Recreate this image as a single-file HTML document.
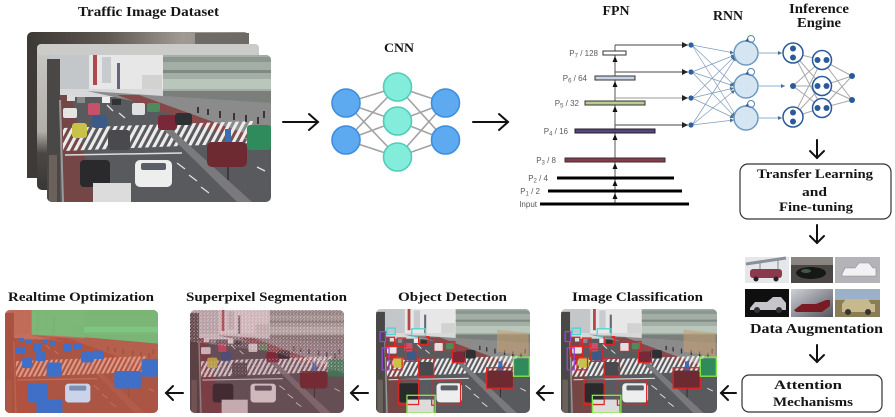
<!DOCTYPE html>
<html><head><meta charset="utf-8"><style>
html,body{margin:0;padding:0;background:#fff;}
svg{display:block;}
.t{font-family:"Liberation Serif",serif;font-weight:bold;fill:#151515;}
.l{font-family:"Liberation Sans",sans-serif;fill:#5a5a5a;font-size:8px;}
</style></head><body>
<svg width="895" height="417" viewBox="0 0 895 417" xmlns="http://www.w3.org/2000/svg">
<defs>
 <pattern id="stripes" patternUnits="userSpaceOnUse" width="7" height="40" patternTransform="skewX(-28)">
   <rect x="0" y="0" width="3.6" height="40" fill="#ececec"/>
 </pattern>
 <pattern id="stripesR" patternUnits="userSpaceOnUse" width="7" height="40" patternTransform="skewX(-28)">
   <rect x="0" y="0" width="3.6" height="40" fill="#e8a595"/>
 </pattern>
 <pattern id="noise" patternUnits="userSpaceOnUse" width="5" height="5">
   <rect x="0" y="0" width="1.6" height="1.4" fill="#fff"/>
   <rect x="2.6" y="1.8" width="1.2" height="1.2" fill="#f4cccc"/>
   <rect x="1" y="3.5" width="1.3" height="1" fill="#fff"/>
   <rect x="3.8" y="4" width="1" height="1" fill="#e0b0b0"/>
 </pattern>
 <marker id="mk" viewBox="0 0 10 10" refX="10" refY="5" markerUnits="userSpaceOnUse" markerWidth="6" markerHeight="6" orient="auto"><path d="M0,0 L10,5 L0,10z" fill="#222"/></marker>
 <marker id="mkb" viewBox="0 0 10 10" refX="10" refY="5" markerUnits="userSpaceOnUse" markerWidth="4" markerHeight="4" orient="auto"><path d="M0,0 L10,5 L0,10z" fill="#4a6f96"/></marker>

 <g id="base">
  <rect width="224" height="147" fill="#595a5e"/>
  <rect width="224" height="42" fill="#d6d8d9"/>
  <rect x="0" y="0" width="42" height="34" fill="#c4c7c9"/>
  <rect x="42" y="0" width="76" height="34" fill="#e6e7e6"/>
  <rect x="46" y="0" width="4" height="30" fill="#b04848"/>
  <rect x="55" y="2" width="9" height="26" fill="#c8cbcd"/>
  <rect x="70" y="8" width="3" height="26" fill="#667"/>
  <rect x="95" y="20" width="20" height="14" fill="#d2d2d0"/>
  <rect x="116" y="0" width="108" height="50" fill="#a3aea7"/>
  <rect x="116" y="2" width="108" height="5" fill="#8b978f"/>
  <rect x="116" y="15" width="108" height="3" fill="#7f8a82"/>
  <rect x="116" y="24" width="108" height="10" fill="#b9c6bc"/>
  <rect x="116" y="36" width="108" height="14" fill="#7b7f7b"/>
  <rect x="0" y="4" width="13" height="143" fill="#4a4846"/>
  <polygon points="40,36 224,48 224,86 204,86 95,48" fill="#8c8b8c"/>
  <polygon points="70,40 92,40 208,82 188,84" fill="#86494a"/>
  <polygon points="13,40 24,40 48,147 17,147" fill="#744646"/>
  <polygon points="16,73 206,66 206,88 16,96" fill="url(#stripes)"/>
  <line x1="18" y1="100" x2="135" y2="98" stroke="#ddd" stroke-width="1.5"/>
  <polygon points="112,70 120,70 205,147 190,147" fill="#7a7a7d"/>
  <line x1="13" y1="45" x2="16" y2="147" stroke="#9a9a9a" stroke-width="2"/>
  <g stroke="#e0e0e0" stroke-width="1.3">
   <line x1="130" y1="108" x2="138" y2="114"/><line x1="142" y1="120" x2="150" y2="126"/><line x1="154" y1="132" x2="162" y2="138"/>
   <line x1="60" y1="50" x2="66" y2="56"/><line x1="72" y1="58" x2="78" y2="63"/>
   <line x1="210" y1="112" x2="218" y2="116"/>
  </g>
  <g fill="#3a3536">
   <rect x="150" y="52" width="2" height="6"/><rect x="160" y="54" width="2" height="6"/><rect x="172" y="56" width="2" height="7"/><rect x="186" y="58" width="2" height="7"/><rect x="198" y="60" width="2" height="7"/><rect x="210" y="62" width="2" height="7"/><rect x="216" y="56" width="2" height="7"/>
  </g>
  <rect x="178" y="74" width="6" height="22" fill="#3c6cb4"/>
  <line x1="181" y1="96" x2="181" y2="125" stroke="#333" stroke-width="1.5"/>
  <rect x="2" y="100" width="8" height="47" fill="#6a625a"/>
 </g>

 <g id="cars">
  <rect x="88" y="105" width="37" height="27" rx="5" fill="#eeeeee"/>
  <rect x="94" y="108" width="25" height="7" rx="2" fill="#5a5e66"/>
  <rect x="33" y="105" width="30" height="27" rx="4" fill="#2a2a2c"/>
  <rect x="46" y="128" width="38" height="19" fill="#dcdcdc"/>
  <rect x="61" y="75" width="22" height="20" rx="3" fill="#4a4a4e"/>
  <rect x="25" y="68" width="15" height="15" rx="3" fill="#c9c24a"/>
  <rect x="45" y="60" width="15" height="13" rx="3" fill="#3b5a88"/>
  <rect x="111" y="60" width="19" height="15" rx="3" fill="#7a2838"/>
  <rect x="128" y="58" width="17" height="12" rx="3" fill="#2e3034"/>
  <rect x="160" y="87" width="40" height="25" rx="5" fill="#6d2a30"/>
  <rect x="200" y="70" width="24" height="25" rx="3" fill="#2f8a5c"/>
  <rect x="16" y="53" width="14" height="10" rx="2" fill="#e5e5e5"/>
  <rect x="41" y="48" width="12" height="12" rx="2" fill="#c9506a"/>
  <rect x="85" y="48" width="13" height="12" rx="2" fill="#e0e0e0"/>
  <rect x="100" y="48" width="13" height="9" rx="2" fill="#4e8a5e"/>
  <rect x="20" y="40" width="8" height="6" fill="#ddd"/>
  <rect x="30" y="42" width="8" height="6" fill="#888"/>
  <rect x="55" y="42" width="8" height="6" fill="#eee"/>
  <rect x="65" y="44" width="9" height="6" fill="#333"/>
 </g>
 <g id="carShapes">
  <rect x="33" y="105" width="30" height="27" rx="4"/>
  <rect x="46" y="128" width="38" height="19"/>
  <rect x="61" y="75" width="22" height="20" rx="3"/>
  <rect x="25" y="68" width="15" height="15" rx="3"/>
  <rect x="45" y="60" width="15" height="13" rx="3"/>
  <rect x="111" y="60" width="19" height="15" rx="3"/>
  <rect x="128" y="58" width="17" height="12" rx="3"/>
  <rect x="160" y="87" width="40" height="25" rx="5"/>
  <rect x="200" y="70" width="24" height="25" rx="3"/>
  <rect x="16" y="53" width="14" height="10" rx="2"/>
  <rect x="41" y="48" width="12" height="12" rx="2"/>
  <rect x="85" y="48" width="13" height="12" rx="2"/>
  <rect x="100" y="48" width="13" height="9" rx="2"/>
  <rect x="20" y="40" width="8" height="6"/>
  <rect x="30" y="42" width="8" height="6"/>
  <rect x="55" y="42" width="8" height="6"/>
  <rect x="65" y="44" width="9" height="6"/>
 </g>
 <g id="boxes" fill="none" stroke-width="1.8">
  <polygon points="176,29 222,34 222,67 176,60" fill="#c9a070" opacity="0.55" stroke="none"/>
  <g stroke="#e02424">
   <rect x="81" y="102" width="42" height="34"/>
   <rect x="33" y="100" width="29" height="35"/>
   <rect x="161" y="83" width="39" height="29"/>
   <rect x="62" y="69" width="22" height="26"/>
   <rect x="14" y="40" width="13" height="13"/>
   <rect x="31" y="41" width="12" height="12"/>
   <rect x="43" y="57" width="17" height="17"/>
   <rect x="23" y="69" width="15" height="17"/>
   <rect x="84" y="46" width="14" height="14"/>
   <rect x="101" y="46" width="14" height="14"/>
   <rect x="111" y="57" width="19" height="19"/>
   <rect x="62" y="39" width="15" height="11"/>
   <rect x="14" y="53" width="17" height="14"/>
  </g>
  <g stroke="#86f044">
   <rect x="200" y="68" width="23" height="27"/>
   <rect x="45" y="122" width="41" height="25"/>
  </g>
  <g stroke="#45d6d6">
   <rect x="16" y="27" width="12" height="9"/>
   <rect x="52" y="28" width="20" height="10"/>
  </g>
  <g stroke="#9a44e6">
   <rect x="6" y="32" width="8" height="14"/>
   <rect x="9" y="55" width="10" height="31"/>
  </g>
 </g>

 <clipPath id="cF"><rect x="47" y="55" width="224" height="147" rx="5"/></clipPath>
 <clipPath id="c1"><rect x="5" y="310" width="153" height="103" rx="5"/></clipPath>
 <clipPath id="c2"><rect x="190" y="310" width="154" height="103" rx="5"/></clipPath>
 <clipPath id="c3"><rect x="376" y="309" width="154" height="104" rx="5"/></clipPath>
 <clipPath id="c4"><rect x="561" y="309" width="156" height="104" rx="5"/></clipPath>
 <linearGradient id="gBack" x1="0" y1="0" x2="1" y2="0">
  <stop offset="0" stop-color="#3c3834"/><stop offset="0.35" stop-color="#5c5650"/><stop offset="0.7" stop-color="#a09a94"/><stop offset="1" stop-color="#8a8682"/>
 </linearGradient>
 <linearGradient id="gMid" x1="0" y1="0" x2="0" y2="1">
  <stop offset="0" stop-color="#c9c9c7"/><stop offset="0.6" stop-color="#b3aea8"/><stop offset="0.75" stop-color="#4a4744"/><stop offset="1" stop-color="#3a3836"/>
 </linearGradient>
 <linearGradient id="gT5" x1="0" y1="0" x2="1" y2="1">
  <stop offset="0" stop-color="#d0d0d8"/><stop offset="1" stop-color="#55555e"/>
 </linearGradient>
</defs>

<rect width="895" height="417" fill="#fff"/>

<!-- ===== Traffic Image Dataset ===== -->
<text class="t" x="148.5" y="16" font-size="14" text-anchor="middle" textLength="141" lengthAdjust="spacingAndGlyphs">Traffic Image Dataset</text>
<rect x="27" y="32" width="222" height="146" rx="5" fill="url(#gBack)"/>
<rect x="195" y="33" width="54" height="12" fill="#6e6a66"/>
<rect x="27" y="44" width="10" height="134" fill="#3e3a37"/>
<rect x="37" y="44" width="222" height="146" rx="5" fill="url(#gMid)"/>
<rect x="37" y="44" width="222" height="11" rx="4" fill="#cbcbc9"/>
<g clip-path="url(#cF)">
 <svg x="47" y="55" width="224" height="147" viewBox="0 0 224 147" preserveAspectRatio="none"><use href="#base"/><use href="#cars"/></svg>
</g>

<!-- arrows right -->
<g stroke="#111" stroke-width="2" fill="none" stroke-linecap="round">
 <line x1="283" y1="122" x2="318" y2="122"/><polyline points="309,114 318,122 309,130"/>
 <line x1="473" y1="122" x2="508" y2="122"/><polyline points="499,114 508,122 499,130"/>
</g>

<!-- ===== CNN ===== -->
<text class="t" x="399" y="52" font-size="13" text-anchor="middle" textLength="30" lengthAdjust="spacingAndGlyphs">CNN</text>
<g stroke="#a3a3a3" stroke-width="1.6">
 <line x1="346" y1="103" x2="397.5" y2="87"/><line x1="346" y1="103" x2="397.5" y2="121"/><line x1="346" y1="103" x2="397.5" y2="157"/>
 <line x1="346" y1="140" x2="397.5" y2="87"/><line x1="346" y1="140" x2="397.5" y2="121"/><line x1="346" y1="140" x2="397.5" y2="157"/>
 <line x1="445.5" y1="103" x2="397.5" y2="87"/><line x1="445.5" y1="103" x2="397.5" y2="121"/><line x1="445.5" y1="103" x2="397.5" y2="157"/>
 <line x1="445.5" y1="140" x2="397.5" y2="87"/><line x1="445.5" y1="140" x2="397.5" y2="121"/><line x1="445.5" y1="140" x2="397.5" y2="157"/>
</g>
<g fill="#5eaaf0" stroke="#3d8de0" stroke-width="1.6">
 <circle cx="346" cy="103" r="14"/><circle cx="346" cy="140" r="14"/>
 <circle cx="445.5" cy="103" r="14"/><circle cx="445.5" cy="140" r="14"/>
</g>
<g fill="#84ecda" stroke="#4fcdb8" stroke-width="1.6">
 <circle cx="397.5" cy="87" r="14"/><circle cx="397.5" cy="121" r="14"/><circle cx="397.5" cy="157" r="14"/>
</g>

<!-- ===== FPN ===== -->
<text class="t" x="616" y="15" font-size="14" text-anchor="middle" textLength="27" lengthAdjust="spacingAndGlyphs">FPN</text>
<line x1="615" y1="45" x2="615" y2="204" stroke="#555" stroke-width="1"/>
<g stroke="#444" stroke-width="1" marker-end="url(#mk)">
 <line x1="615" y1="45" x2="688" y2="45"/>
 <line x1="615" y1="72" x2="688" y2="72"/>
 <line x1="615" y1="98" x2="688" y2="98" stroke="#999"/>
 <line x1="615" y1="125" x2="688" y2="125"/>
</g>
<rect x="603" y="51" width="23" height="4" fill="#fff" stroke="#333" stroke-width="1"/>
<rect x="595" y="76" width="40" height="4" fill="#c8d4e6" stroke="#333" stroke-width="1"/>
<rect x="585" y="101" width="60" height="4" fill="#b9cd90" stroke="#333" stroke-width="1"/>
<rect x="575" y="129" width="80" height="4" fill="#5b4282" stroke="#222" stroke-width="1"/>
<rect x="565" y="158" width="100" height="4" fill="#8c3a48" stroke="#333" stroke-width="1"/>
<g stroke="#000" stroke-width="3">
 <line x1="557" y1="178" x2="674" y2="178"/>
 <line x1="548" y1="191" x2="682" y2="191"/>
 <line x1="540" y1="204" x2="689" y2="204"/>
</g>
<g fill="#111">
 <path d="M615,56 l-2.5,6 h5z"/><path d="M615,81 l-2.5,6 h5z"/><path d="M615,106 l-2.5,6 h5z"/>
 <path d="M615,134 l-2.5,6 h5z"/><path d="M615,163 l-2.5,6 h5z"/><path d="M615,180 l-2.5,6 h5z"/><path d="M615,193 l-2.5,6 h5z"/>
</g>
<text class="l" x="598" y="56" text-anchor="end">P<tspan font-size="6" dy="1.5">7</tspan><tspan dy="-1.5"> / 128</tspan></text>
<text class="l" x="587" y="81" text-anchor="end">P<tspan font-size="6" dy="1.5">6</tspan><tspan dy="-1.5"> / 64</tspan></text>
<text class="l" x="579" y="106" text-anchor="end">P<tspan font-size="6" dy="1.5">5</tspan><tspan dy="-1.5"> / 32</tspan></text>
<text class="l" x="568" y="134" text-anchor="end">P<tspan font-size="6" dy="1.5">4</tspan><tspan dy="-1.5"> / 16</tspan></text>
<text class="l" x="556" y="163" text-anchor="end">P<tspan font-size="6" dy="1.5">3</tspan><tspan dy="-1.5"> / 8</tspan></text>
<text class="l" x="548" y="181" text-anchor="end">P<tspan font-size="6" dy="1.5">2</tspan><tspan dy="-1.5"> / 4</tspan></text>
<text class="l" x="540" y="194" text-anchor="end">P<tspan font-size="6" dy="1.5">1</tspan><tspan dy="-1.5"> / 2</tspan></text>
<text class="l" x="537" y="207" text-anchor="end">Input</text>

<!-- ===== RNN ===== -->
<text class="t" x="728" y="20" font-size="14" text-anchor="middle" textLength="30" lengthAdjust="spacingAndGlyphs">RNN</text>
<g stroke="#7f9cbc" stroke-width="0.7" marker-end="url(#mkb)">
 <line x1="692" y1="45" x2="734" y2="53"/><line x1="692" y1="45" x2="735" y2="86"/><line x1="692" y1="45" x2="736" y2="116"/>
 <line x1="692" y1="72" x2="735" y2="55"/><line x1="692" y1="72" x2="734" y2="86"/><line x1="692" y1="72" x2="735" y2="117"/>
 <line x1="692" y1="98" x2="735" y2="56"/><line x1="692" y1="98" x2="734" y2="88"/><line x1="692" y1="98" x2="734" y2="118"/>
 <line x1="692" y1="125" x2="736" y2="57"/><line x1="692" y1="125" x2="735" y2="90"/><line x1="692" y1="125" x2="734" y2="120"/>
</g>
<g fill="#2f5f9e">
 <circle cx="691" cy="45" r="2.6"/><circle cx="691" cy="72" r="2.6"/><circle cx="691" cy="98" r="2.6"/><circle cx="691" cy="125" r="2.6"/>
</g>
<g fill="#d5e6f2" stroke="#6b9bc2" stroke-width="1.5">
 <circle cx="746" cy="53" r="12"/><circle cx="746" cy="86" r="12"/><circle cx="746" cy="118" r="12"/>
</g>
<g fill="none" stroke="#5a86b0" stroke-width="1">
 <circle cx="751" cy="39" r="3.5"/><circle cx="751" cy="72" r="3.5"/><circle cx="751" cy="104" r="3.5"/>
</g>
<g fill="#2f5f9e"><path d="M745,41 l3,-3 l1,4z"/><path d="M745,74 l3,-3 l1,4z"/><path d="M745,106 l3,-3 l1,4z"/></g>
<g stroke="#8ab2d4" stroke-width="1" marker-end="url(#mkb)">
 <line x1="759" y1="53" x2="782" y2="53"/><line x1="759" y1="86" x2="785" y2="86"/><line x1="759" y1="118" x2="782" y2="118"/>
</g>

<!-- ===== Inference Engine ===== -->
<text class="t" x="819" y="13" font-size="14" text-anchor="middle" textLength="60" lengthAdjust="spacingAndGlyphs">Inference</text>
<text class="t" x="819" y="27" font-size="14" text-anchor="middle" textLength="44" lengthAdjust="spacingAndGlyphs">Engine</text>
<g stroke="#a8a8a8" stroke-width="1">
 <line x1="793" y1="53" x2="822" y2="60"/><line x1="793" y1="53" x2="822" y2="86"/><line x1="793" y1="53" x2="822" y2="108"/>
 <line x1="793" y1="86" x2="822" y2="60"/><line x1="793" y1="86" x2="822" y2="86"/><line x1="793" y1="86" x2="822" y2="108"/>
 <line x1="793" y1="117" x2="822" y2="60"/><line x1="793" y1="117" x2="822" y2="86"/><line x1="793" y1="117" x2="822" y2="108"/>
 <line x1="822" y1="60" x2="852" y2="76"/><line x1="822" y1="60" x2="852" y2="100"/>
 <line x1="822" y1="86" x2="852" y2="76"/><line x1="822" y1="86" x2="852" y2="100"/>
 <line x1="822" y1="108" x2="852" y2="76"/><line x1="822" y1="108" x2="852" y2="100"/>
</g>
<g fill="#fff" stroke="#2b5a9a" stroke-width="1.5">
 <circle cx="793" cy="53" r="10"/><circle cx="793" cy="117" r="10"/>
 <circle cx="822" cy="60" r="9.5"/><circle cx="822" cy="86" r="9.5"/><circle cx="822" cy="108" r="9.5"/>
</g>
<g fill="#2b5a9a">
 <circle cx="793" cy="48.5" r="3"/><circle cx="793" cy="57.5" r="3"/>
 <circle cx="793" cy="112.5" r="3"/><circle cx="793" cy="121.5" r="3"/>
 <circle cx="793" cy="86" r="3"/>
 <circle cx="817.5" cy="60" r="3"/><circle cx="826.5" cy="60" r="3"/>
 <circle cx="817.5" cy="86" r="3"/><circle cx="826.5" cy="86" r="3"/>
 <circle cx="817.5" cy="108" r="3"/><circle cx="826.5" cy="108" r="3"/>
 <circle cx="852" cy="76" r="3"/><circle cx="852" cy="100" r="3"/>
</g>

<!-- down arrows -->
<g stroke="#111" stroke-width="2" fill="none" stroke-linecap="round">
 <line x1="817" y1="140" x2="817" y2="158"/><polyline points="810,151 817,158 824,151"/>
 <line x1="817" y1="225" x2="817" y2="243"/><polyline points="810,236 817,243 824,236"/>
 <line x1="817" y1="345" x2="817" y2="362"/><polyline points="810,355 817,362 824,355"/>
</g>

<!-- Transfer Learning box -->
<rect x="740" y="164" width="151" height="55" rx="8" fill="#fff" stroke="#333" stroke-width="1.2"/>
<text class="t" x="815" y="178" font-size="13" text-anchor="middle" textLength="116" lengthAdjust="spacingAndGlyphs">Transfer Learning</text>
<text class="t" x="814.5" y="196" font-size="13" text-anchor="middle" textLength="25" lengthAdjust="spacingAndGlyphs">and</text>
<text class="t" x="816" y="211" font-size="13" text-anchor="middle" textLength="74" lengthAdjust="spacingAndGlyphs">Fine-tuning</text>

<!-- Data augmentation thumbnails -->
<rect x="745" y="257" width="44" height="26" fill="#e6e7ea"/>
<line x1="746" y1="264" x2="786" y2="258" stroke="#8a909c" stroke-width="3"/>
<line x1="760" y1="262" x2="760" y2="272" stroke="#888" stroke-width="1"/><line x1="778" y1="260" x2="778" y2="270" stroke="#888" stroke-width="1"/>
<rect x="750" y="269" width="32" height="9" rx="3" fill="#8a3a4c"/>
<circle cx="756" cy="279" r="2.5" fill="#222"/><circle cx="776" cy="279" r="2.5" fill="#222"/>

<rect x="791" y="257" width="42" height="26" fill="#4a4744"/>
<rect x="791" y="257" width="42" height="8" fill="#8a8580"/>
<ellipse cx="811" cy="273" rx="15" ry="6" fill="#151817"/>
<ellipse cx="806" cy="271" rx="5" ry="2" fill="#3c5a48"/>

<rect x="835" y="257" width="45" height="26" fill="#b3b3b8"/>
<path d="M842,274 l3,-6 h10 l4,-5 h10 l4,5 h3 v8 h-34z" fill="#f2f2f4" stroke="#8a8a90" stroke-width="0.6"/>

<rect x="745" y="289" width="44" height="28" fill="#0f0f0f"/>
<path d="M750,308 l5,-6 h12 l6,-5 h8 l5,6 v7 h-36z" fill="#c5c6ca"/>
<circle cx="757" cy="310" r="3" fill="#333"/><circle cx="779" cy="310" r="3" fill="#333"/>

<rect x="791" y="289" width="42" height="28" fill="url(#gT5)"/>
<path d="M794,310 l8,-6 h14 l10,-4 h4 v6 l-8,6 h-26z" fill="#7a1a22"/>

<rect x="835" y="289" width="45" height="28" fill="#8a7c55"/>
<rect x="835" y="289" width="45" height="11" fill="#9ab1c8"/>
<path d="M842,312 v-8 l4,-5 h22 l3,5 h4 v8z" fill="#c8b88e"/>
<circle cx="848" cy="312" r="3" fill="#333"/><circle cx="868" cy="312" r="3" fill="#333"/>

<text class="t" x="816.5" y="333" font-size="14" text-anchor="middle" textLength="133" lengthAdjust="spacingAndGlyphs">Data Augmentation</text>

<!-- Attention box -->
<rect x="742" y="375" width="140" height="37" rx="7" fill="#fff" stroke="#333" stroke-width="1.2"/>
<text class="t" x="808" y="389" font-size="13" text-anchor="middle" textLength="68" lengthAdjust="spacingAndGlyphs">Attention</text>
<text class="t" x="813" y="406" font-size="13" text-anchor="middle" textLength="80" lengthAdjust="spacingAndGlyphs">Mechanisms</text>

<!-- left arrows -->
<g stroke="#111" stroke-width="2" fill="none" stroke-linecap="round">
 <line x1="736" y1="393" x2="721" y2="393"/><polyline points="728,386 721,393 728,400"/>
 <line x1="553" y1="393" x2="537" y2="393"/><polyline points="544,386 537,393 544,400"/>
 <line x1="368" y1="393" x2="351" y2="393"/><polyline points="358,386 351,393 358,400"/>
 <line x1="183" y1="393" x2="166" y2="393"/><polyline points="173,386 166,393 173,400"/>
</g>

<!-- ===== Bottom row ===== -->
<text class="t" x="81" y="301" font-size="13" text-anchor="middle" textLength="146" lengthAdjust="spacingAndGlyphs">Realtime Optimization</text>
<text class="t" x="266.5" y="301" font-size="13" text-anchor="middle" textLength="161" lengthAdjust="spacingAndGlyphs">Superpixel Segmentation</text>
<text class="t" x="452.5" y="301" font-size="13" text-anchor="middle" textLength="109" lengthAdjust="spacingAndGlyphs">Object Detection</text>
<text class="t" x="637.5" y="301" font-size="13" text-anchor="middle" textLength="131" lengthAdjust="spacingAndGlyphs">Image Classification</text>

<!-- Realtime Optimization -->
<g clip-path="url(#c1)">
 <svg x="5" y="310" width="153" height="103" viewBox="0 0 224 147" preserveAspectRatio="none">
  <use href="#base"/>
  <rect width="224" height="147" fill="#bf553d" opacity="0.8"/>
  <polygon points="16,73 206,66 206,88 16,96" fill="url(#stripesR)" opacity="0.7"/>
  <polygon points="39,0 224,0 224,48 130,40 39,35" fill="#70c47e" opacity="0.85"/>
  <g fill="#7fd08a" opacity="0.6"><rect x="116" y="24" width="108" height="8"/></g>
  <use href="#carShapes" fill="#3f6fc6"/>
  <rect x="88" y="105" width="37" height="27" rx="5" fill="#c9d4ea"/>
  <rect x="94" y="108" width="25" height="7" rx="2" fill="#7f8db0"/>
 </svg>
</g>

<!-- Superpixel Segmentation -->
<g clip-path="url(#c2)">
 <svg x="190" y="310" width="154" height="103" viewBox="0 0 224 147" preserveAspectRatio="none">
  <use href="#base"/><use href="#cars"/>
  <rect width="224" height="147" fill="#8a3040" opacity="0.28"/>
  <polygon points="0,0 224,0 224,90 120,60 0,45" fill="url(#noise)" opacity="0.65"/>
  <polygon points="16,73 206,66 206,88 16,96" fill="url(#noise)" opacity="0.4"/>
 </svg>
</g>

<!-- Object Detection -->
<g clip-path="url(#c3)">
 <svg x="376" y="309" width="154" height="104" viewBox="0 0 224 147" preserveAspectRatio="none">
  <use href="#base"/><use href="#cars"/><use href="#boxes"/>
 </svg>
</g>

<!-- Image Classification -->
<g clip-path="url(#c4)">
 <svg x="561" y="309" width="156" height="104" viewBox="0 0 224 147" preserveAspectRatio="none">
  <use href="#base"/><use href="#cars"/><use href="#boxes"/>
 </svg>
</g>
</svg>
</body></html>
